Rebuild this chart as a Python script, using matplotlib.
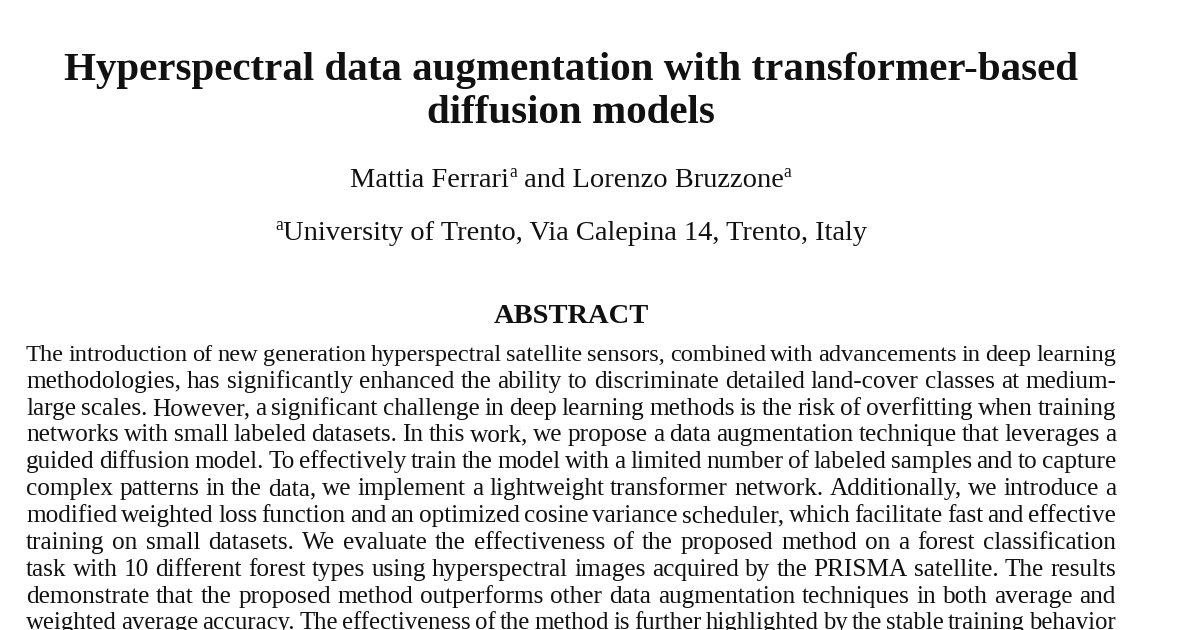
import matplotlib
matplotlib.use("Agg")
import matplotlib.pyplot as plt

W, H = 1200, 630
FAM = ["Liberation Serif", "DejaVu Serif"]

title_lines = ["Hyperspectral data augmentation with transformer-based", "diffusion models"]
authors = [("Mattia Ferrari", 0), ("a", 1), (" and Lorenzo Bruzzone", 0), ("a", 1)]
affil = [("a", 1), ("University of Trento, Via Calepina 14, Trento, Italy", 0)]
heading = "ABSTRACT"
body = [
    "The introduction of new generation hyperspectral satellite sensors, combined with advancements in deep learning",
    "methodologies, has significantly enhanced the ability to discriminate detailed land-cover classes at medium-",
    "large scales.  However, a significant challenge in deep learning methods is the risk of overfitting when training",
    "networks with small labeled datasets. In this work, we propose a data augmentation technique that leverages a",
    "guided diffusion model. To effectively train the model with a limited number of labeled samples and to capture",
    "complex patterns in the data, we implement a lightweight transformer network.  Additionally, we introduce a",
    "modified weighted loss function and an optimized cosine variance scheduler, which facilitate fast and effective",
    "training on small datasets.  We evaluate the effectiveness of the proposed method on a forest classification",
    "task with 10 different forest types using hyperspectral images acquired by the PRISMA satellite.  The results",
    "demonstrate that the proposed method outperforms other data augmentation techniques in both average and",
    "weighted average accuracy.  The effectiveness of the method is further highlighted by the stable training behavior",
]
body_y = [354, 381, 408, 434, 461, 488, 515, 542, 569, 596, 622]

fig = plt.figure(figsize=(12, 6.3), dpi=100)
fig.patch.set_facecolor("white")
r = fig.canvas.get_renderer()

def width(s, size, weight="normal"):
    t = fig.text(0, 0, s, fontsize=size, family=FAM, fontweight=weight)
    w = t.get_window_extent(renderer=r).width
    t.remove()
    return w

def put(x, y, s, size, weight="normal", ha="left"):
    fig.text(x / W, 1 - y / H, s, fontsize=size, family=FAM, fontweight=weight,
             ha=ha, va="baseline", color="#111111")

for s, y in zip(title_lines, [80, 123]):
    put(571, y, s, 29.5, weight="bold", ha="center")

def runs(items, y, size, cx=571):
    ws = [width(s, size * (0.62 if sup else 1)) for s, sup in items]
    x = cx - sum(ws) / 2
    for (s, sup), w in zip(items, ws):
        put(x, y - (10 if sup else 0), s, size * (0.62 if sup else 1))
        x += w

runs(authors, 187, 20.5)
runs(affil, 240, 20.5)
put(571, 323, heading, 20.5, weight="bold", ha="center")

L, R = 26, 1116
for s, y in zip(body, body_y):
    words = s.split()
    size = 18.2
    while True:
        ws = [width(w_, size) for w_ in words]
        gap = (R - L - sum(ws)) / (len(words) - 1)
        if gap >= 4 or size < 12:
            break
        size -= 0.2
    x = L
    for w_, ww in zip(words, ws):
        put(x, y + 7, w_, size)
        x += ww + gap

fig.savefig("out.png", dpi=100, facecolor="white")
